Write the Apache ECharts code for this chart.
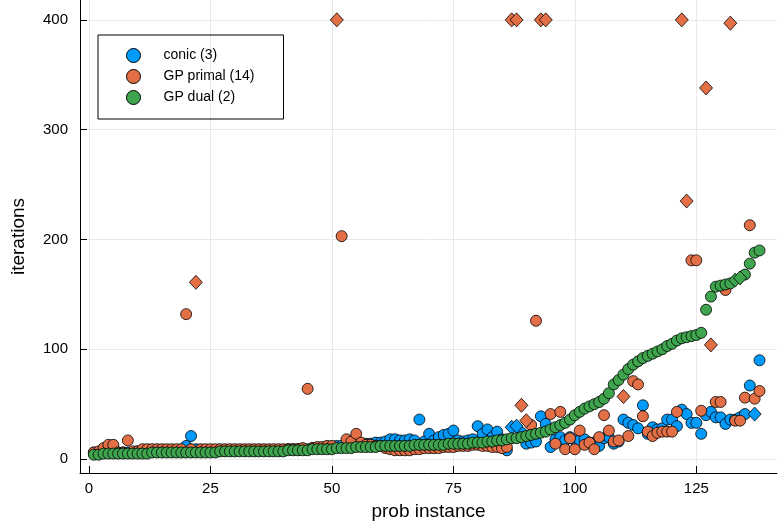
<!DOCTYPE html>
<html>
<head>
<meta charset="utf-8">
<script src="https://cdn.jsdelivr.net/npm/echarts@6/dist/echarts.min.js"></script>
<style>
html,body{margin:0;padding:0;background:#fff;}
#chart{width:778px;height:526px;}
</style>
</head>
<body>
<div id="chart"></div>
<script>
// iterations per problem instance (instance number = index + 1)
var conic = [
  6,6,6,6,6,6,6,6,6,7,
  7,7,7,7,7,7,7,7,8,12,
  21,9,8,8,8,8,8,8,8,8,
  8,8,8,8,8,8,8,8,8,8,
  9,9,9,9,9,10,10,10,11,11,
  12,12,12,13,13,13,14,14,15,15,
  16,18,18,17,17,18,17,36,16,23,
  17,20,22,23,26,17,16,17,18,30,
  23,27,20,25,18,8,29,30,24,14,
  15,16,39,32,11,18,20,17,20,17,
  17,18,15,15,12,19,20,14,16,36,
  33,31,28,49,23,29,27,28,36,36,
  30,45,41,33,33,23,40,43,38,38,
  32,36,36,38,41,67,41,90
];
var gpPrimal = [
  6,7,10,13,13,6,6,17,7,7,
  9,9,9,9,9,9,9,9,9,132,
  9,161,9,9,9,9,9,9,9,9,
  9,9,9,9,9,9,9,9,9,9,
  9,9,9,10,64,10,11,11,12,12,
  400,203,18,16,23,15,13,13,12,12,
  10,9,8,8,8,8,9,9,10,10,
  10,10,11,11,11,12,12,12,13,13,
  12,12,11,11,10,11,400,400,49,35,
  31,126,400,400,41,14,43,9,19,9,
  26,13,15,9,20,40,26,16,17,57,
  21,71,68,39,25,21,24,25,25,25,
  43,400,235,181,181,44,338,104,52,52,
  154,397,35,35,56,213,55,62
];
var gpDual = [
  4,4,5,5,5,5,5,5,5,5,
  5,5,6,6,6,6,6,6,6,6,
  6,6,6,6,6,6,7,7,7,7,
  7,7,7,7,7,7,7,7,7,7,
  8,8,8,8,8,9,9,9,9,9,
  10,10,10,10,11,11,11,11,11,12,
  12,12,12,12,12,12,13,13,13,13,
  13,13,13,14,14,14,14,14,15,15,
  15,16,16,17,17,18,19,19,20,21,
  22,23,24,25,27,29,31,33,36,40,
  43,46,48,50,52,55,60,68,72,77,
  82,86,89,92,94,96,98,100,103,105,
  108,110,111,112,113,115,136,148,157,158,
  159,160,163,165,168,178,188,190
];
// failed instances (drawn as diamonds)
var conicFail = [87, 88, 137];
var primalFail = [22, 51, 87, 88, 89, 90, 93, 94, 110, 122, 123, 127, 128, 132];
var dualFail = [133, 134];

var xTicks = [0, 25, 50, 75, 100, 125];
var yTicks = [0, 100, 200, 300, 400];
var names = ['conic (3)', 'GP primal (14)', 'GP dual (2)'];
var colors = ['#009AFA', '#E36F47', '#3EA44E'];

function splitPts(vals, fails) {
  var ok = [], bad = [];
  vals.forEach(function (v, i) {
    var x = i + 1;
    if (fails.indexOf(x) >= 0) bad.push([x, v]); else ok.push([x, v]);
  });
  return {ok: ok, bad: bad};
}

var groups = [splitPts(conic, conicFail), splitPts(gpPrimal, primalFail), splitPts(gpDual, dualFail)];
var series = [];
groups.forEach(function (g, k) {
  series.push({
    name: names[k], type: 'scatter', data: g.ok, symbol: 'circle', symbolSize: 11,
    itemStyle: {color: colors[k], borderColor: '#000', borderWidth: 0.8, opacity: 1},
    emphasis: {disabled: true}
  });
  series.push({
    name: names[k], type: 'scatter', data: g.bad, symbol: 'diamond', symbolSize: [13, 14],
    itemStyle: {color: colors[k], borderColor: '#000', borderWidth: 0.8, opacity: 1},
    emphasis: {disabled: true}
  });
});

var chart = echarts.init(document.getElementById('chart'));
chart.setOption({
  animation: false,
  backgroundColor: '#fff',
  textStyle: {fontFamily: 'Liberation Sans'},
  grid: {left: 80, right: 1, top: 0, bottom: 50},
  legend: {
    data: names, orient: 'vertical', left: 98, top: 35,
    icon: 'circle', itemWidth: 14, itemHeight: 14, itemGap: 6,
    padding: [13, 29, 14, 28],
    borderColor: '#000', borderWidth: 1,
    itemStyle: {borderColor: '#000', borderWidth: 1},
    textStyle: {fontSize: 14, color: '#000', padding: [0, 0, 0, 18]},
    selectedMode: false
  },
  xAxis: {
    type: 'value', min: -1.85, max: 141.6,
    name: 'prob instance', nameLocation: 'middle', nameGap: 29,
    nameTextStyle: {fontSize: 19, color: '#000'},
    axisLine: {show: true, onZero: false, lineStyle: {color: '#000', width: 1}},
    axisTick: {show: true, inside: true, length: 7, customValues: xTicks, lineStyle: {color: '#000'}},
    axisLabel: {customValues: xTicks, fontSize: 15, color: '#000', margin: 8},
    splitLine: {show: true, lineStyle: {color: '#e9e9e9', width: 1}}
  },
  yAxis: {
    type: 'value', min: -12.67, max: 418.1,
    name: 'iterations', nameLocation: 'middle', nameGap: 52, nameRotate: 90,
    nameTextStyle: {fontSize: 19, color: '#000'},
    axisLine: {show: true, onZero: false, lineStyle: {color: '#000', width: 1}},
    axisTick: {show: true, inside: true, length: 7, customValues: yTicks, lineStyle: {color: '#000'}},
    axisLabel: {customValues: yTicks, fontSize: 15, color: '#000', margin: 12},
    splitLine: {show: true, lineStyle: {color: '#e9e9e9', width: 1}}
  },
  series: series
});
</script>
</body>
</html>
